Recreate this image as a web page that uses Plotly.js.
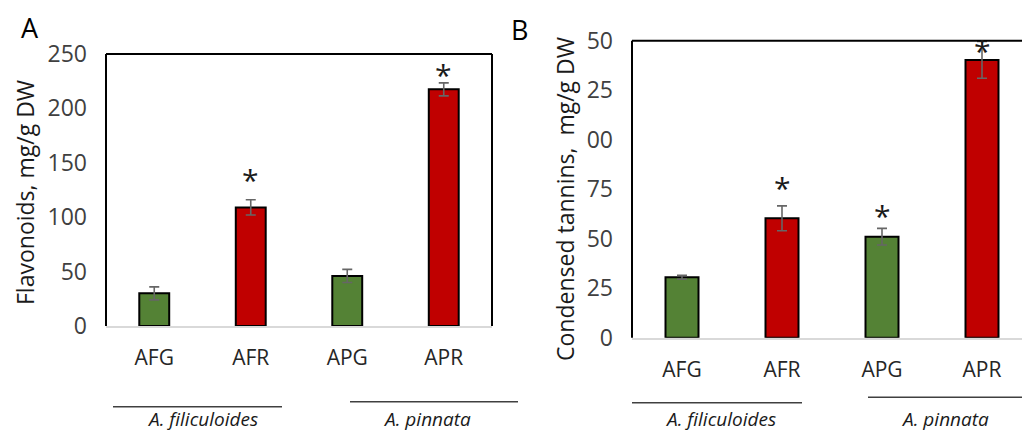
<!DOCTYPE html>
<html>
<head>
<meta charset="utf-8">
<script src="https://cdn.plot.ly/plotly-3.0.1.min.js"></script>
<style>html,body{margin:0;padding:0;background:#fff;}#chart{width:1022px;height:432px;}</style>
</head>
<body>
<div id="chart"></div>
<script>
// ---- data ----
const categories = ["AFG", "AFR", "APG", "APR"];
const barColors = ["#548235", "#C00000", "#548235", "#C00000"];

const flavonoids = [30, 109, 46, 217.5];
const flavonoidsErr = [6, 7, 6, 6];
const flavonoidsSig = [false, true, false, true];

const tannins = [30.5, 60.3, 51, 140.3];
const tanninsErr = [1, 6.3, 4.2, 9.3];
const tanninsSig = [false, true, true, true];

const yTicksA = [0, 50, 100, 150, 200, 250];
const yTicksB = [0, 25, 50, 75, 100, 125, 150];
const yTickTextB = ["0", "25", "50", "75", "00", "25", "50"];

const groupLabels = ["A. filiculoides", "A. pinnata"];
const titleA = "Flavonoids, mg/g DW";
const titleB = "Condensed tannins,  mg/g DW";

// ---- helpers ----
const W = 1022, H = 432;
const px = x => x / W;
const py = y => 1 - y / H;
const FONT = "Open Sans, Segoe UI, sans-serif";

function barTrace(vals, errs, xa, ya, width) {
  return {
    type: "bar", x: categories, y: vals, xaxis: xa, yaxis: ya,
    width: width,
    marker: {color: barColors, line: {color: "#000000", width: 2}},
    error_y: {type: "data", array: errs, visible: true, color: "#666666", thickness: 1.6, width: 5},
    hoverinfo: "skip", showlegend: false
  };
}

const traces = [
  barTrace(flavonoids, flavonoidsErr, "x", "y", 0.31),
  barTrace(tannins, tanninsErr, "x2", "y2", 0.33)
];

const annotations = [];
function stars(vals, errs, sig, xa, ya, pad) {
  vals.forEach((v, i) => {
    if (!sig[i]) return;
    annotations.push({
      x: categories[i], y: v + errs[i], xref: xa, yref: ya,
      text: "*", showarrow: false, yanchor: "bottom", yshift: pad[i],
      font: {family: FONT, size: 30, color: "#1a1a1a"}
    });
  });
}
stars(flavonoids, flavonoidsErr, flavonoidsSig, "x", "y", [0, -2, 0, -14]);
stars(tannins, tanninsErr, tanninsSig, "x2", "y2", [0, -4, -10, -32]);

// panel letters
annotations.push({x: px(30), y: py(27), xref: "paper", yref: "paper", text: "A", showarrow: false,
  xanchor: "center", yanchor: "middle", font: {family: FONT, size: 27, color: "#000"}});
annotations.push({x: px(519), y: py(29), xref: "paper", yref: "paper", text: "B", showarrow: false,
  xanchor: "center", yanchor: "middle", font: {family: FONT, size: 27, color: "#000"}});

// y titles
annotations.push({x: px(25), y: py(193), xref: "paper", yref: "paper", text: titleA, textangle: -90,
  showarrow: false, xanchor: "center", yanchor: "middle", font: {family: FONT, size: 23, color: "#1a1a1a"}});
annotations.push({x: px(565), y: py(199), xref: "paper", yref: "paper", text: titleB, textangle: -90,
  showarrow: false, xanchor: "center", yanchor: "middle", font: {family: FONT, size: 23, color: "#1a1a1a"}});

// group labels
const groupTextPos = [[202, 419], [427, 419], [720, 419], [945, 419]];
groupTextPos.forEach((p, i) => {
  annotations.push({x: px(p[0]), y: py(p[1]), xref: "paper", yref: "paper", text: "<i>" + groupLabels[i % 2] + "</i>",
    showarrow: false, xanchor: "center", yanchor: "middle", font: {family: FONT, size: 19, color: "#1a1a1a"}});
});

const shapes = [];
function frame(xd, yd, right) {
  const base = {type: "line", xref: xd, yref: yd, line: {color: "#000", width: 2}, layer: "above"};
  shapes.push(Object.assign({}, base, {x0: 0, x1: 0, y0: 0, y1: 1}));
  shapes.push(Object.assign({}, base, {x0: 0, x1: 1, y0: 1, y1: 1}));
  if (right) shapes.push(Object.assign({}, base, {x0: 1, x1: 1, y0: 0, y1: 1}));
}
frame("x domain", "y domain", true);
frame("x2 domain", "y2 domain", false);

const groupLines = [[113, 282, 406.7], [350, 518, 401.7], [632, 802, 402.7], [868, 1022, 397.3]];
groupLines.forEach(l => {
  shapes.push({type: "line", xref: "paper", yref: "paper", x0: px(l[0]), x1: px(l[1]), y0: py(l[2]), y1: py(l[2]),
    line: {color: "#404040", width: 1.5}});
});

const tickFont = {family: FONT, size: 23, color: "#404040"};
const xFont = {family: FONT, size: 21, color: "#262626"};

const layout = {
  width: W, height: H,
  margin: {l: 0, r: 0, t: 0, b: 0},
  paper_bgcolor: "#fff", plot_bgcolor: "#fff",
  showlegend: false,
  xaxis: {domain: [px(106), px(492)], range: [-0.5, 3.5], showline: true, linecolor: "#d9d9d9", linewidth: 2,
    ticks: "", tickfont: xFont, ticklabelstandoff: 12, showgrid: false, zeroline: false, fixedrange: true},
  yaxis: {domain: [py(326), py(54)], range: [0, 250], tickvals: yTicksA, showline: false, ticks: "",
    tickfont: tickFont, ticklabelstandoff: 18, showgrid: false, zeroline: false, fixedrange: true},
  xaxis2: {domain: [px(632), 1], range: [-0.5, 3.4], anchor: "y2", showline: true, linecolor: "#d9d9d9", linewidth: 2,
    ticks: "", tickfont: xFont, ticklabelstandoff: 12, showgrid: false, zeroline: false, fixedrange: true},
  yaxis2: {domain: [py(337.7), py(40.7)], range: [0, 150], anchor: "x2", tickvals: yTicksB, ticktext: yTickTextB,
    showline: false, ticks: "", tickfont: tickFont, ticklabelstandoff: 18, showgrid: false, zeroline: false, fixedrange: true},
  annotations: annotations,
  shapes: shapes
};

Plotly.newPlot("chart", traces, layout, {displayModeBar: false, staticPlot: true});
</script>
</body>
</html>
